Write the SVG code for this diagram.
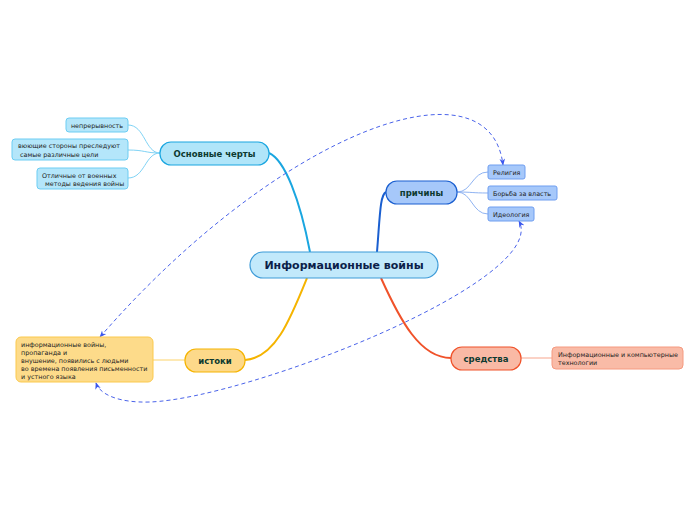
<svg xmlns="http://www.w3.org/2000/svg" width="696" height="520" viewBox="0 0 696 520">
<style>
text{font-family:"DejaVu Sans","Liberation Sans",sans-serif}
.main{font-size:11px;font-weight:bold;fill:#0c1f4a;text-anchor:middle}
.topic{font-size:8.5px;font-weight:bold;fill:#0d3a30;text-anchor:middle}
.leaf{font-size:6.4px;fill:#222222}
.rel{fill:none;stroke:#4a63ea;stroke-width:1;stroke-dasharray:4,3;marker-end:url(#arr);marker-start:url(#arr)}
.thin{fill:none;stroke-width:1}
.thick{fill:none;stroke-width:2}
</style>
<defs>
<marker id="arr" viewBox="0 0 10 10" refX="9" refY="5" markerWidth="7" markerHeight="7" markerUnits="userSpaceOnUse" orient="auto-start-reverse">
<path d="M0,1 L10,5 L0,9 L3,5 Z" fill="#3b57ee"/>
</marker>
</defs>
<rect width="696" height="520" fill="#ffffff"/>
<g id="connectors">
<path class="thick" stroke="#1aa6e0" d="M310,252 C300,200 285,160 269,153"/>
<path class="thick" stroke="#1a5fd0" d="M377,252 C380,215 380,195 386,192"/>
<path class="thick" stroke="#f5b400" d="M307,278 C290,320 275,358 245,360"/>
<path class="thick" stroke="#f0522a" d="M381,278 C400,320 420,358 451,358"/>
<path class="thin" stroke="#7fd3f5" d="M160,153 C145,153 145,125 128,125"/>
<path class="thin" stroke="#7fd3f5" d="M160,153 C145,153 145,150 128,150"/>
<path class="thin" stroke="#7fd3f5" d="M160,153 C145,153 145,178 128,178"/>
<path class="thin" stroke="#8fb3f2" d="M457,192 C472,192 472,172 488,172"/>
<path class="thin" stroke="#8fb3f2" d="M457,192 C472,192 472,193 488,193"/>
<path class="thin" stroke="#8fb3f2" d="M457,192 C472,192 472,214 488,214"/>
<path class="thin" stroke="#fcd36a" d="M185,360 L153,360"/>
<path class="thin" stroke="#f7a58d" d="M521,358 L552,358"/>
<path class="rel" d="M100,337 C280,130 490,55 503,165"/>
<path class="rel" d="M96,383 C100,395 120,403 150,402 C250,398 550,280 519,221"/>
</g>
<g id="central">
<rect x="250" y="252" width="188" height="26" rx="13" fill="#c2e9fb" stroke="#3d9bd8" stroke-width="1.2"/>
<text class="main" x="344" y="269">Информационные войны</text>
</g>
<g id="osnovnye">
<rect x="160" y="142" width="109" height="23" rx="11" fill="#b0e5f9" stroke="#1aa6e0" stroke-width="1.2"/>
<text class="topic" x="214.5" y="156.5">Основные черты</text>
</g>
<g id="prichiny">
<rect x="386" y="181" width="71" height="23" rx="11" fill="#a6c8fa" stroke="#1a5fd0" stroke-width="1.2"/>
<text class="topic" x="421.5" y="195.5">причины</text>
</g>
<g id="istoki">
<rect x="185" y="349" width="60" height="23" rx="11" fill="#fdd98a" stroke="#f5b400" stroke-width="1.2"/>
<text class="topic" x="215" y="363.5">истоки</text>
</g>
<g id="sredstva">
<rect x="451" y="347" width="70" height="23" rx="11" fill="#f9b9a5" stroke="#f0522a" stroke-width="1.2"/>
<text class="topic" x="486" y="361.5">средства</text>
</g>
<g id="leaf-nepreryvnost">
<rect x="66" y="118" width="62" height="14" rx="3" fill="#b4e6fa" stroke="#6ccdf3"/>
<text class="leaf" x="97" y="127.5" text-anchor="middle">непрерывность</text>
</g>
<g id="leaf-storony">
<rect x="12" y="139" width="116" height="21" rx="3" fill="#b4e6fa" stroke="#6ccdf3"/>
<text class="leaf" x="18" y="148">вюющие стороны преследуют</text>
<text class="leaf" x="20" y="157">самые различные цели</text>
</g>
<g id="leaf-otlichnye">
<rect x="37" y="168" width="91" height="21" rx="3" fill="#b4e6fa" stroke="#6ccdf3"/>
<text class="leaf" x="42" y="177.5">Отличные от военных</text>
<text class="leaf" x="45" y="186">методы ведения войны</text>
</g>
<g id="leaf-religiya">
<rect x="488" y="165" width="37" height="14" rx="2" fill="#a6c8fa" stroke="#6f9ef0"/>
<text class="leaf" x="493" y="175">Религия</text>
</g>
<g id="leaf-borba">
<rect x="488" y="186" width="69" height="14" rx="2" fill="#a6c8fa" stroke="#6f9ef0"/>
<text class="leaf" x="493" y="196">Борьба за власть</text>
</g>
<g id="leaf-ideologiya">
<rect x="488" y="207" width="46" height="14" rx="2" fill="#a6c8fa" stroke="#6f9ef0"/>
<text class="leaf" x="493" y="217">Идеология</text>
</g>
<g id="leaf-istoki">
<rect x="16" y="337" width="137" height="45" rx="5" fill="#fddb8a" stroke="#fbc94d"/>
<text class="leaf" x="21" y="347">информационные войны,</text>
<text class="leaf" x="21" y="355">пропаганда и</text>
<text class="leaf" x="21" y="363">внушение, появились с людьми</text>
<text class="leaf" x="21" y="371">во времена появления письменности</text>
<text class="leaf" x="21" y="379">и устного языка</text>
</g>
<g id="leaf-sredstva">
<rect x="552" y="347" width="131" height="22" rx="4" fill="#f9bba7" stroke="#f59a80"/>
<text class="leaf" x="558" y="356.5">Информационные и компьютерные</text>
<text class="leaf" x="558" y="365">технологии</text>
</g>
</svg>
